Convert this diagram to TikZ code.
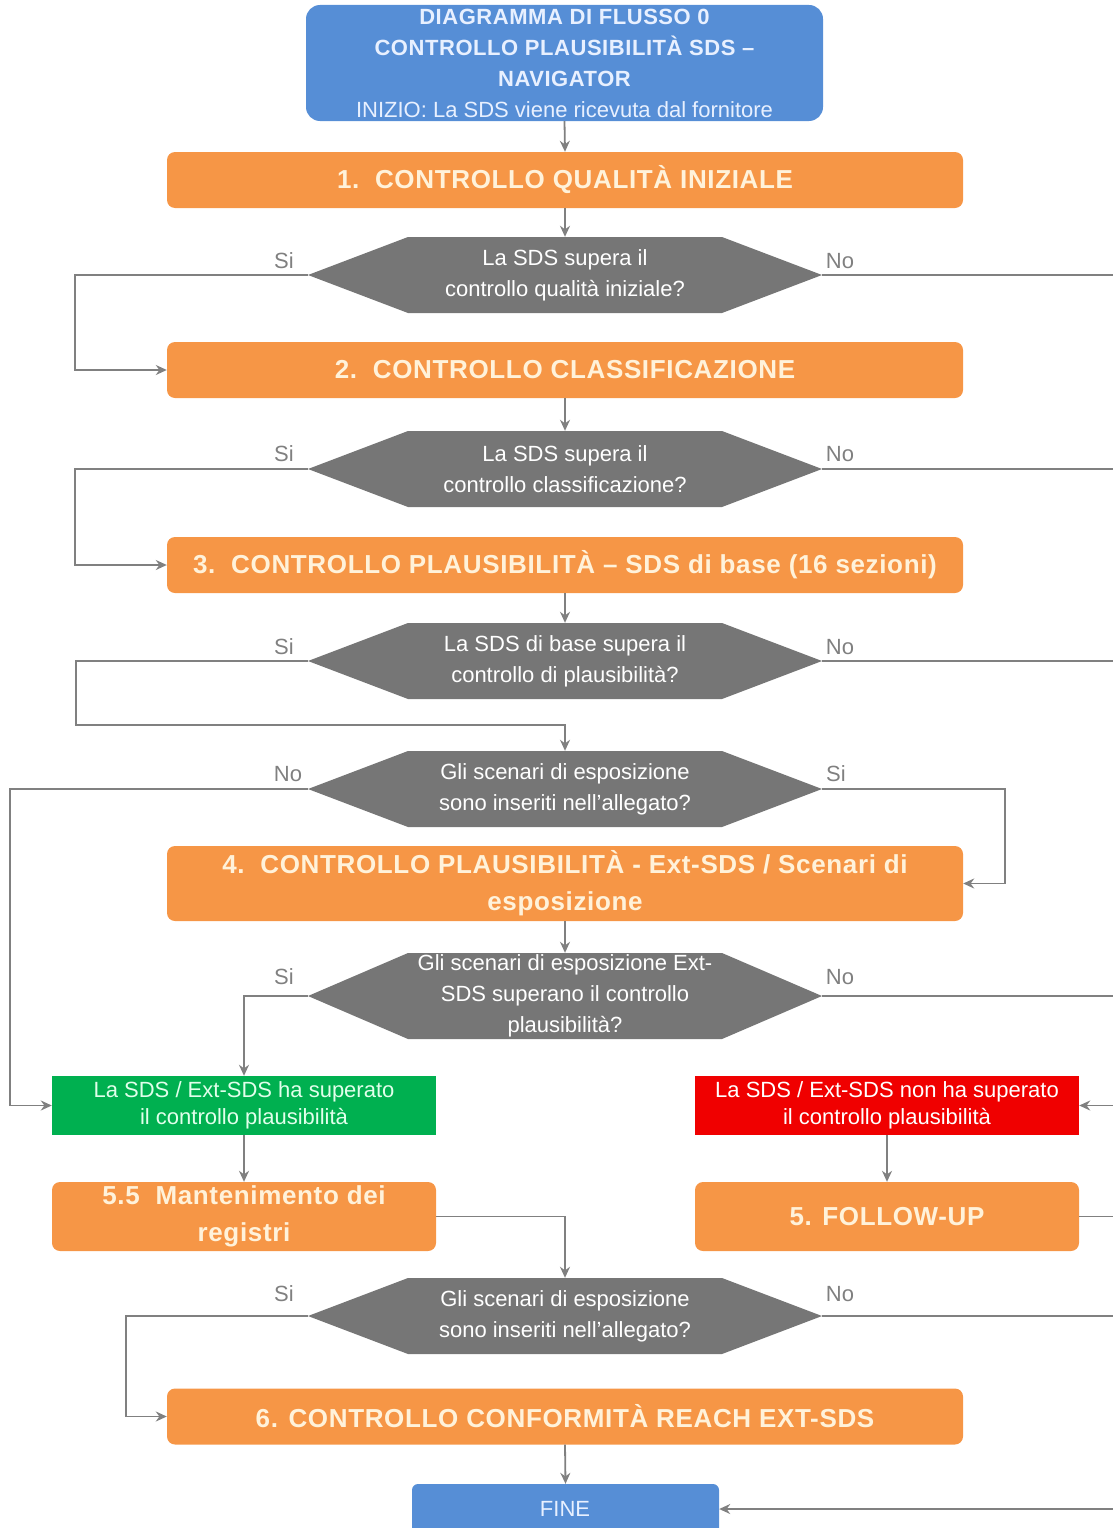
\documentclass[tikz,border=0pt]{standalone}
\usepackage{fontspec}
\setmainfont{Liberation Sans}
\usetikzlibrary{arrows.meta,calc}
\definecolor{boxorange}{RGB}{246,150,70}
\definecolor{boxblue}{RGB}{86,142,214}
\definecolor{hexgray}{RGB}{118,118,118}
\definecolor{linegray}{RGB}{128,128,128}
\definecolor{okgreen}{RGB}{0,176,80}
\definecolor{kored}{RGB}{240,0,0}
\definecolor{cream}{RGB}{255,242,218}
\definecolor{paleblue}{RGB}{232,240,255}
\definecolor{palegreen}{RGB}{225,255,235}
\newfontfamily\spacedfont[LetterSpace=2.5]{Liberation Sans}
\begin{document}
\begin{tikzpicture}[x=1pt,y=-1pt,
  obox/.style={rectangle, rounded corners=8pt, fill=boxorange, text=cream, align=center,
    font=\spacedfont\fontsize{26}{37}\selectfont\bfseries, inner sep=0pt, minimum height=56pt},
  hexbox/.style={rectangle, fill=white, inner sep=0pt, minimum width=514pt, minimum height=76pt,
    align=center, text=white, font=\fontsize{22}{31}\selectfont,
    path picture={\fill[hexgray] (path picture bounding box.west)
      -- ([xshift=100pt]path picture bounding box.north west)
      -- ([xshift=-100pt]path picture bounding box.north east)
      -- (path picture bounding box.east)
      -- ([xshift=-100pt]path picture bounding box.south east)
      -- ([xshift=100pt]path picture bounding box.south west) -- cycle;}},
  lbl/.style={text=linegray, font=\fontsize{22}{26}\selectfont, inner sep=0pt},
  conn/.style={draw=linegray, line width=1.8pt},
  arr/.style={conn, -{Stealth[length=11pt,width=10pt]}},
  resbox/.style={rectangle, inner sep=0pt, minimum width=384pt, minimum height=59pt,
    align=center, font=\fontsize{22}{27}\selectfont}
]
\useasboundingbox (0,0) rectangle (1113,1528);

% nodes
\node[rectangle, rounded corners=14pt, fill=boxblue, text=paleblue, align=center,
  minimum width=517pt, minimum height=116pt, inner sep=0pt,
  font=\fontsize{22}{31}\selectfont] (start) at (564.5,63)
  {{\spacedfont\bfseries DIAGRAMMA DI FLUSSO 0}\\{\spacedfont\bfseries CONTROLLO PLAUSIBILITÀ SDS –}\\{\spacedfont\bfseries NAVIGATOR}\\INIZIO: La SDS viene ricevuta dal fornitore};

\node[obox, minimum width=796pt] (b1) at (565,180) {1.\ \ CONTROLLO QUALITÀ INIZIALE};
\node[hexbox] (h1) at (565,275) {La SDS supera il\\controllo qualità iniziale?};
\node[obox, minimum width=796pt] (b2) at (565,370) {2.\ \ CONTROLLO CLASSIFICAZIONE};
\node[hexbox] (h2) at (565,469) {La SDS supera il\\controllo classificazione?};
\node[obox, minimum width=796pt] (b3) at (565,565) {3.\ \ CONTROLLO PLAUSIBILITÀ – SDS di base (16 sezioni)};
\node[hexbox] (h3) at (565,661) {La SDS di base supera il\\controllo di plausibilità?};
\node[hexbox] (h4) at (565,789) {Gli scenari di esposizione\\sono inseriti nell’allegato?};
\node[obox, minimum width=796pt, minimum height=75pt] (b4) at (565,883.5)
  {4.\ \ CONTROLLO PLAUSIBILITÀ - Ext-SDS / Scenari di\\esposizione};
\node[hexbox, minimum height=86pt] (h5) at (565,996)
  {Gli scenari di esposizione Ext-\\SDS superano il controllo\\plausibilità?};
\node[resbox, fill=okgreen, text=palegreen] (ok) at (244,1105.5)
  {La SDS / Ext-SDS ha superato\\il controllo plausibilità};
\node[resbox, fill=kored, text=white] (ko) at (887,1105.5)
  {La SDS / Ext-SDS non ha superato\\il controllo plausibilità};
\node[obox, minimum width=384pt, minimum height=69pt] (b55) at (244,1216.5)
  {5.5\ \ Mantenimento dei\\registri};
\node[obox, minimum width=384pt, minimum height=69pt] (b5) at (887,1216.5) {5. FOLLOW-UP};
\node[hexbox] (h6) at (565,1316) {Gli scenari di esposizione\\sono inseriti nell’allegato?};
\node[obox, minimum width=796pt] (b6) at (565,1416.5) {6. CONTROLLO CONFORMITÀ REACH EXT-SDS};
\node[rectangle, rounded corners=6pt, fill=boxblue, text=paleblue, minimum width=307pt,
  minimum height=60pt, inner sep=0pt, font=\fontsize{22}{26}\selectfont] (fine) at (565.5,1514) {};
\node[text=paleblue, inner sep=0pt, font=\fontsize{22}{26}\selectfont] (finetext) at (565,1509) {FINE};

% labels
\node[lbl] (s1) at (284,261) {Si};
\node[lbl] (n1) at (840,261) {No};
\node[lbl] (s2) at (284,454) {Si};
\node[lbl] (n2) at (840,454) {No};
\node[lbl] (s3) at (284,647) {Si};
\node[lbl] (n3) at (840,647) {No};
\node[lbl] (n4) at (288,774) {No};
\node[lbl] (s4) at (836,774) {Si};
\node[lbl] (s5) at (284,977) {Si};
\node[lbl] (n5) at (840,977) {No};
\node[lbl] (s6) at (284,1294) {Si};
\node[lbl] (n6) at (840,1294) {No};

% right-side bus (outside the page)
\coordinate (rx) at (1118,0);

% connectors
\draw[arr] (start.south) -- (b1.north);
\draw[arr] (b1.south) -- (h1.north);
\draw[arr] (h1.west) -| (75,320) |- (b2.west);
\draw[conn] (h1.east) -- (h1.east -| rx);
\draw[arr] (b2.south) -- (h2.north);
\draw[arr] (h2.west) -| (75,520) |- (b3.west);
\draw[conn] (h2.east) -- (h2.east -| rx);
\draw[arr] (b3.south) -- (h3.north);
\draw[conn] (h3.west) -| (76,725) -- (565,725);
\draw[arr] (565,724.1) -- (h4.north);
\draw[conn] (h3.east) -- (h3.east -| rx);
\draw[arr] (h4.west) -| (10,1000) |- (ok.west);
\draw[arr] (h4.east) -| (1005,850) |- (b4.east);
\draw[arr] (b4.south) -- (h5.north);
\draw[arr] (h5.west) -| (ok.north);
\draw[conn] (h5.east) -- (h5.east -| rx);
\draw[arr] (ok.south) -- (b55.north);
\draw[arr] (b55.east) -| (h6.north);
\draw[arr] (ko.east -| rx) -- (ko.east);
\draw[arr] (ko.south) -- (b5.north);
\draw[conn] (b5.east) -- (b5.east -| rx);
\draw[arr] (h6.west) -| (126,1370) |- (b6.west);
\draw[conn] (h6.east) -- (h6.east -| rx);
\draw[arr] (b6.south) -- (fine.north);
\draw[arr] (finetext.east -| rx) -- (finetext.east -| fine.east);
\draw[conn] (rx |- h1.east) -- (rx |- finetext.east);
\end{tikzpicture}
\end{document}
